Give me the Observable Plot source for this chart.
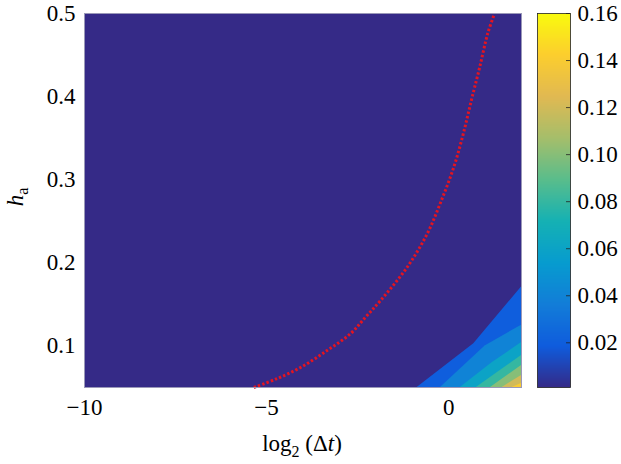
<!DOCTYPE html>
<html><head><meta charset="utf-8">
<script src="https://cdn.jsdelivr.net/npm/d3@7"></script>
<script src="https://cdn.jsdelivr.net/npm/@observablehq/plot@0.6"></script>
<style>
body{margin:0;background:#fff;}
#chart{position:relative;width:621px;height:464px;overflow:hidden;font-family:"Liberation Serif","Times New Roman",serif;}
#chart svg{position:absolute;top:0;overflow:visible;}
</style></head><body><div id="chart"></div>
<script>
// ---- data ----
const X_DOMAIN = [-10, 2];
const Y_DOMAIN = [0.05, 0.5];
const C_DOMAIN = [0.001, 0.16];
const X_TICKS = [-10, -5, 0];
const Y_TICKS = [0.1, 0.2, 0.3, 0.4, 0.5];
const CB_TICKS = [0.02, 0.04, 0.06, 0.08, 0.10, 0.12, 0.14, 0.16];

// filled-contour band boundaries (level, x points, y points), bottom edge -> right edge
const levels = [0.02, 0.04, 0.06, 0.08, 0.10, 0.12, 0.14];
const bX002 = [-0.865, 0.69, 2];   const bY002 = [0.05, 0.1026, 0.171];
const bX004 = [-0.225, 1.0, 2];    const bY004 = [0.05, 0.1, 0.125];
const bX006 = [0.32, 1.2, 2];      const bY006 = [0.05, 0.08, 0.104];
const bX008 = [0.76, 2];           const bY008 = [0.05, 0.0885];
const bX010 = [1.15, 2];           const bY010 = [0.05, 0.0765];
const bX012 = [1.47, 2];           const bY012 = [0.05, 0.0645];
const bX014 = [1.74, 2];           const bY014 = [0.05, 0.0548];
const boundX = [bX002, bX004, bX006, bX008, bX010, bX012, bX014];
const boundY = [bY002, bY004, bY006, bY008, bY010, bY012, bY014];

// red dotted curve
const curveX = [-5.35, -4.75, -4.07, -3.34, -2.70, -2.28, -1.87, -1.14, -0.59, -0.20, 0.14, 0.40, 0.62, 0.85, 1.07, 1.24];
const curveY = [0.050, 0.060, 0.074, 0.0945, 0.1146, 0.1347, 0.1547, 0.1947, 0.2349, 0.275, 0.315, 0.355, 0.395, 0.435, 0.4756, 0.4976];

// parula colormap (uniform stops)
const PARULA = ["#352a87","#0f5cdd","#127dd8","#079ccf","#15b1b4","#59bd8c","#a5be6b","#e1b952","#fcce2e","#f9fb0e"];
const parula = d3.piecewise(d3.interpolateRgb, PARULA);

const SERIF = "'Liberation Serif', 'Times New Roman', serif";
const colorOpts = {type: "linear", domain: C_DOMAIN, interpolate: parula};
const STYLE = {fontSize: "23px", background: "transparent", color: "#000", overflow: "visible"};

const bandMarks = levels.map((lev, k) => {
  const idx = d3.range(boundX[k].length);
  return Plot.area(idx, {
    x1: i => boundX[k][i],
    y1: () => Y_DOMAIN[0],
    y2: i => boundY[k][i],
    fill: () => lev
  });
});

const main = Plot.plot({
  width: 530, height: 464,
  marginLeft: 84, marginRight: 9, marginTop: 13, marginBottom: 77,
  style: STYLE,
  x: {domain: X_DOMAIN, ticks: X_TICKS, tickSize: 0, tickPadding: 11, label: null},
  y: {domain: Y_DOMAIN, ticks: Y_TICKS, tickSize: 0, tickPadding: 9, label: null, tickFormat: d3.format(".1f")},
  color: colorOpts,
  marks: [
    Plot.rect([C_DOMAIN[0]], {x1: () => X_DOMAIN[0], x2: () => X_DOMAIN[1], y1: () => Y_DOMAIN[0], y2: () => Y_DOMAIN[1], fill: d => d}),
    ...bandMarks,
    Plot.line(d3.range(curveX.length), {x: i => curveX[i], y: i => curveY[i], stroke: "#e5141f", strokeWidth: 3, strokeDasharray: "2.4,2.1", strokeLinecap: "butt", curve: "catmull-rom"}),
    Plot.frame({stroke: "#9a98b8", strokeWidth: 1})
  ]
});

const cb = Plot.plot({
  width: 84, height: 464,
  marginLeft: 0, marginRight: 51, marginTop: 13, marginBottom: 77,
  style: STYLE,
  x: {domain: [0, 1], axis: null},
  y: {domain: C_DOMAIN, ticks: CB_TICKS, tickSize: 0, tickPadding: 7, tickFormat: d3.format(".2f"), label: null, axis: "right"},
  color: colorOpts,
  marks: [
    Plot.raster({fill: (x, y) => y, x1: 0, x2: 1, y1: C_DOMAIN[0], y2: C_DOMAIN[1], width: 1, height: 374, imageRendering: "auto"}),
    Plot.tickY(CB_TICKS, {y: d => d, insetLeft: 29, stroke: "#222", strokeWidth: 0.8}),
    Plot.frame({stroke: "#222", strokeWidth: 0.8})
  ]
});

const chart = document.getElementById("chart");
main.style.left = "0px";
cb.style.left = "537px";
chart.appendChild(main);
chart.appendChild(cb);

// axis titles with sub/italic formatting
const svg = d3.select(main);
const xl = svg.append("text")
  .attr("x", 302).attr("y", 451)
  .attr("text-anchor", "middle");
xl.append("tspan").text("log");
xl.append("tspan").style("font-size", "16px").attr("dy", 6).text("2");
xl.append("tspan").attr("dy", -6).text("\u00a0(\u0394");
xl.append("tspan").attr("font-style", "italic").text("t");
xl.append("tspan").text(")");

const yl = svg.append("text")
  .attr("transform", "translate(23,197) rotate(-90)")
  .attr("text-anchor", "middle");
yl.append("tspan").attr("font-style", "italic").text("h");
yl.append("tspan").style("font-size", "16px").attr("dy", 5).text("a");

// force serif font on every text element (ticks included)
d3.selectAll("#chart svg, #chart svg g, #chart svg text")
  .attr("font-family", SERIF)
  .style("font-family", SERIF)
  .attr("font-variant", null)
  .style("font-variant", "normal");
d3.selectAll("#chart svg text").style("fill", "#000");
</script>
</body></html>
